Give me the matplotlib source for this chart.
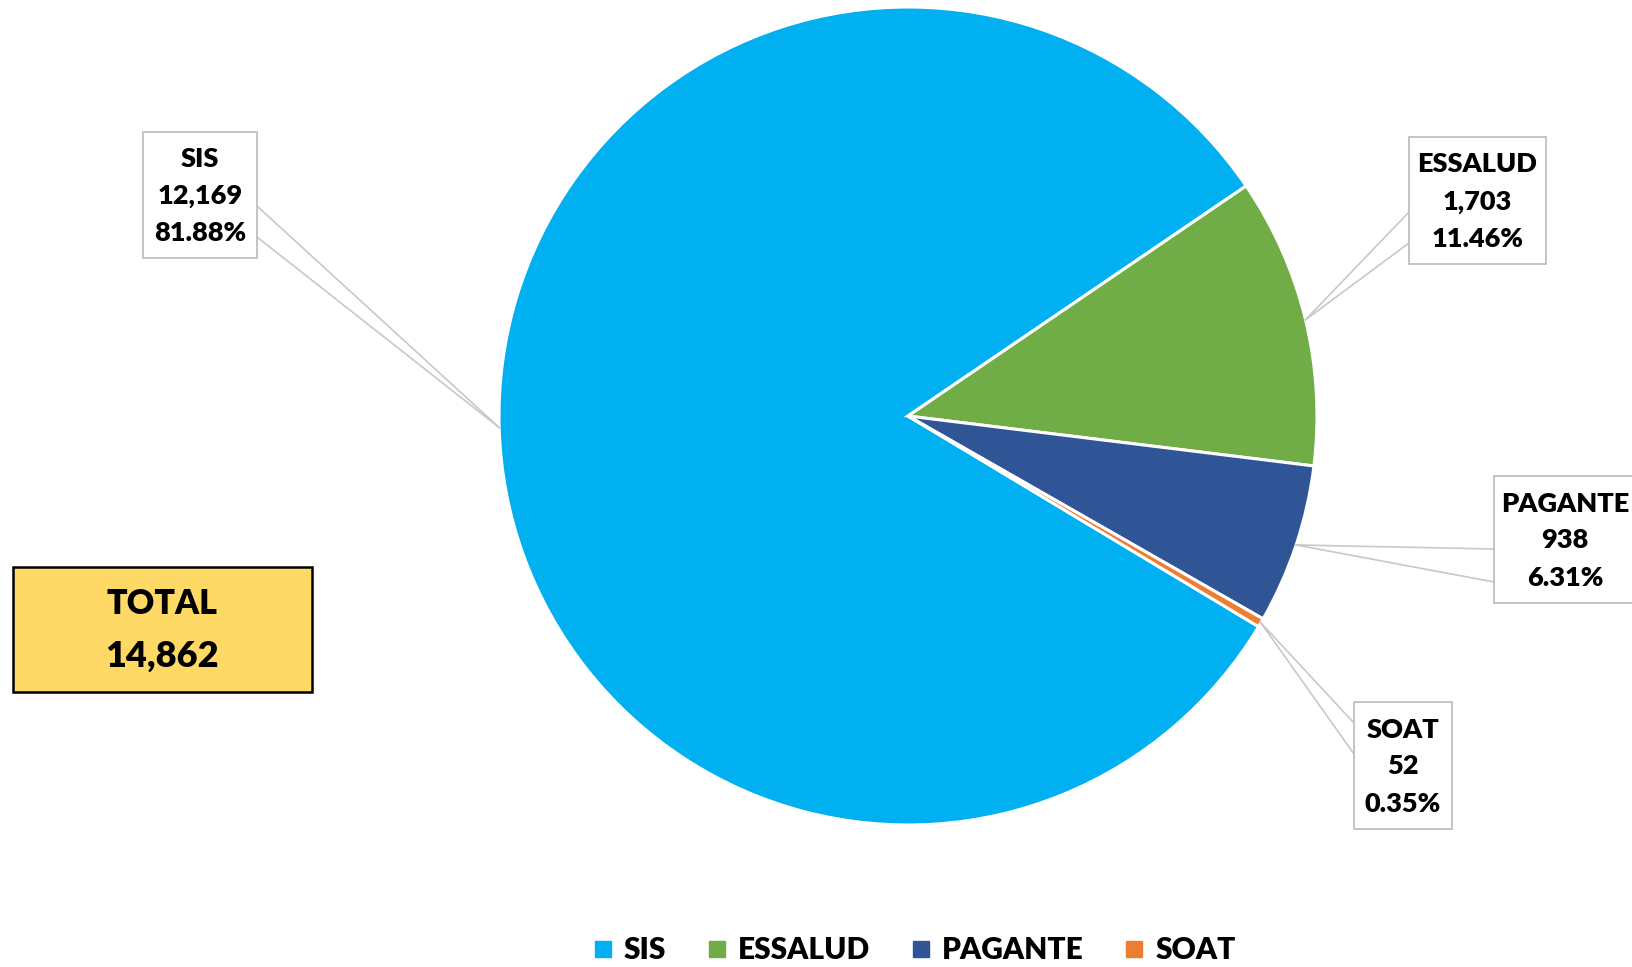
import numpy as np
import matplotlib
matplotlib.use("Agg")
import matplotlib.pyplot as plt
from matplotlib.patches import Rectangle
from matplotlib.lines import Line2D

plt.rcParams['font.family'] = ['Lato', 'DejaVu Sans']
plt.rcParams['font.weight'] = 'bold'

# data
categories = ["SIS", "ESSALUD", "PAGANTE", "SOAT"]
values = [12169, 1703, 938, 52]
total = 14862
colors = ["#00B0F0", "#70AD47", "#2F5597", "#ED7D31"]

W, H = 1632, 967
fig = plt.figure(figsize=(W / 100, H / 100), dpi=100)
ax = fig.add_axes([0, 0, 1, 1])

cx, cy, r = 908, H - 416, 409
wedges, _ = ax.pie(values, colors=colors, startangle=-31, counterclock=False,
                   center=(cx, cy), radius=r,
                   wedgeprops=dict(edgecolor="white", linewidth=2.2))
ax.set_xlim(0, W)
ax.set_ylim(0, H)
ax.set_aspect("equal")
ax.axis("off")

# label boxes (left, top, right, bottom in px from top-left) and callout base (y offsets from top)
boxes = {
    "SIS": (143, 132, 257, 258, "right", 74, 105),
    "ESSALUD": (1409, 137, 1546, 264, "left", 75, 106),
    "PAGANTE": (1494, 476, 1636, 603, "left", 73, 106),
    "SOAT": (1354, 702, 1452, 829, "left", 21, 52),
}

for w, cat, v in zip(wedges, categories, values):
    mid = np.deg2rad((w.theta1 + w.theta2) / 2)
    axx = cx + r * np.cos(mid)
    axy = cy + r * np.sin(mid)
    l, t, rr, b, side, o1, o2 = boxes[cat]
    ax.add_patch(Rectangle((l, H - b), rr - l, b - t, facecolor="white",
                           edgecolor="#BFBFBF", linewidth=1.3, zorder=4))
    ex = rr if side == "right" else l
    for o in (o1, o2):
        ax.plot([ex, axx], [H - (t + o), axy], color="#C8C8C8", lw=1.2, zorder=3)
    pct = v / total * 100
    ax.text((l + rr) / 2 if cat != "PAGANTE" else 1565, H - (t + b) / 2 - 1,
            f"{cat}\n{v:,}\n{pct:.2f}%", ha="center", va="center",
            fontsize=19.5, fontweight="heavy", linespacing=1.65, zorder=5)

# total box
ax.add_patch(Rectangle((13, H - 692), 299, 125, facecolor="#FFD966",
                       edgecolor="black", linewidth=1.8, zorder=4))
ax.text(162, H - 604, "TOTAL", ha="center", va="center", fontsize=24.5,
        fontweight="heavy", zorder=5)
ax.text(162, H - 656, f"{total:,}", ha="center", va="center", fontsize=26,
        fontweight="heavy", zorder=5)

handles = [Line2D([], [], marker="s", ls="", color=c, markersize=11) for c in colors]
fig.legend(handles, categories, loc="center", bbox_to_anchor=(914 / W, 1 - 950 / H),
           ncol=4, frameon=False, handlelength=0.7, handletextpad=0.35,
           columnspacing=1.35, prop=dict(size=21.5, weight="heavy"))

fig.savefig("out.png", dpi=100)
